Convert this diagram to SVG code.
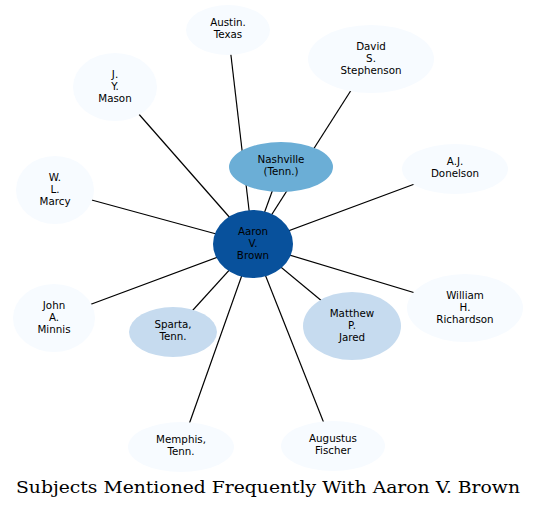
<svg xmlns="http://www.w3.org/2000/svg" width="537" height="509" viewBox="0 0 537 509">
<style>
.e{stroke:#000;stroke-width:1.2;fill:none}
.n0{fill:#f7fbff;stroke:none}
.n1{fill:#c6dbef;stroke:none}
.n2{fill:#6baed6;stroke:none}
.n3{fill:#08519c;stroke:none}
text{font-family:"DejaVu Sans",sans-serif;font-size:10.3px;fill:#000;text-anchor:middle}
.title{font-family:"DejaVu Serif",serif;font-size:16.5px}
</style>
<rect width="537" height="509" fill="#fff"/>
<g id="edges">
<line class="e" x1="228" y1="30" x2="253" y2="244"/>
<line class="e" x1="371" y1="59" x2="253" y2="244"/>
<line class="e" x1="281" y1="167" x2="253" y2="244"/>
<line class="e" x1="115" y1="87" x2="253" y2="244"/>
<line class="e" x1="55" y1="190" x2="253" y2="244"/>
<line class="e" x1="455" y1="169" x2="253" y2="244"/>
<line class="e" x1="465" y1="308" x2="253" y2="244"/>
<line class="e" x1="54" y1="318" x2="253" y2="244"/>
<line class="e" x1="173" y1="332" x2="253" y2="244"/>
<line class="e" x1="352" y1="326" x2="253" y2="244"/>
<line class="e" x1="181" y1="447" x2="253" y2="244"/>
<line class="e" x1="333" y1="446" x2="253" y2="244"/>
</g>
<g id="austin"><ellipse class="n0" cx="228" cy="30" rx="42" ry="25"/><text x="228" y="25.5">Austin.</text><text x="228" y="37.5">Texas</text></g>
<g id="stephenson"><ellipse class="n0" cx="371" cy="59" rx="63" ry="34"/><text x="371" y="49.5">David</text><text x="371" y="61.5">S.</text><text x="371" y="73.5">Stephenson</text></g>
<g id="mason"><ellipse class="n0" cx="115" cy="87" rx="42" ry="34"/><text x="115" y="77.5">J.</text><text x="115" y="89.5">Y.</text><text x="115" y="101.5">Mason</text></g>
<g id="nashville"><ellipse class="n2" cx="281" cy="167" rx="52" ry="25"/><text x="281" y="162.5">Nashville</text><text x="281" y="174.5">(Tenn.)</text></g>
<g id="donelson"><ellipse class="n0" cx="455" cy="169" rx="53" ry="25"/><text x="455" y="164.5">A.J.</text><text x="455" y="176.5">Donelson</text></g>
<g id="marcy"><ellipse class="n0" cx="55" cy="190" rx="39" ry="34"/><text x="55" y="180.5">W.</text><text x="55" y="192.5">L.</text><text x="55" y="204.5">Marcy</text></g>
<g id="brown"><ellipse class="n3" cx="253" cy="244" rx="40" ry="34"/><text x="253" y="234.5">Aaron</text><text x="253" y="246.5">V.</text><text x="253" y="258.5">Brown</text></g>
<g id="richardson"><ellipse class="n0" cx="465" cy="308" rx="58" ry="34"/><text x="465" y="298.5">William</text><text x="465" y="310.5">H.</text><text x="465" y="322.5">Richardson</text></g>
<g id="minnis"><ellipse class="n0" cx="54" cy="318" rx="41" ry="34"/><text x="54" y="308.5">John</text><text x="54" y="320.5">A.</text><text x="54" y="332.5">Minnis</text></g>
<g id="sparta"><ellipse class="n1" cx="173" cy="332" rx="44" ry="25"/><text x="173" y="327.5">Sparta,</text><text x="173" y="339.5">Tenn.</text></g>
<g id="jared"><ellipse class="n1" cx="352" cy="326" rx="49" ry="34"/><text x="352" y="316.5">Matthew</text><text x="352" y="328.5">P.</text><text x="352" y="340.5">Jared</text></g>
<g id="memphis"><ellipse class="n0" cx="181" cy="447" rx="53" ry="25"/><text x="181" y="442.5">Memphis,</text><text x="181" y="454.5">Tenn.</text></g>
<g id="fischer"><ellipse class="n0" cx="333" cy="446" rx="52" ry="25"/><text x="333" y="441.5">Augustus</text><text x="333" y="453.5">Fischer</text></g>
<text class="title" x="268" y="493" textLength="504" lengthAdjust="spacingAndGlyphs">Subjects Mentioned Frequently With Aaron V. Brown</text>
</svg>
